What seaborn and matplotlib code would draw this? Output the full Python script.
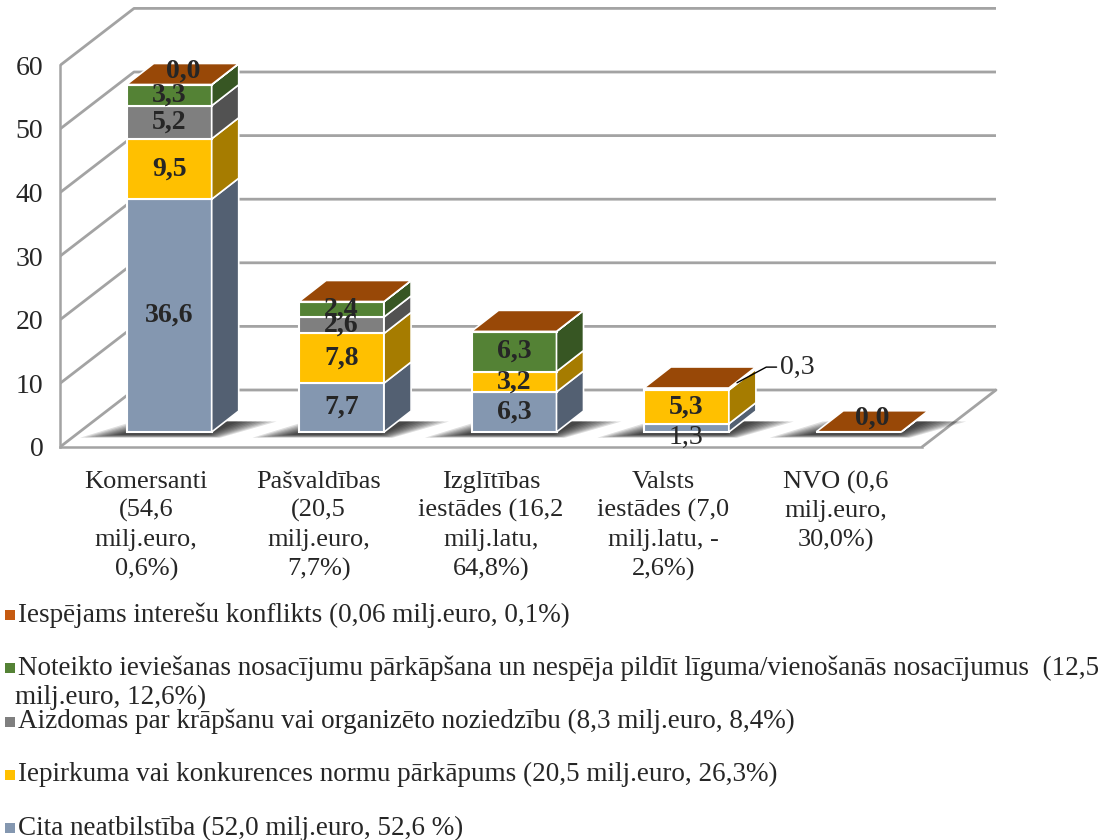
import numpy as np
import matplotlib.pyplot as plt
import seaborn as sns
from matplotlib.patches import Polygon, Rectangle

# ─── data ─────────────────────────────────────────────────────────────────────
categories = [
    "Komersanti\n(54,6\nmilj.euro,\n0,6%)",
    "Pašvaldības\n(20,5\nmilj.euro,\n7,7%)",
    "Izglītības\niestādes (16,2\nmilj.latu,\n64,8%)",
    "Valsts\niestādes (7,0\nmilj.latu, -\n2,6%)",
    "NVO (0,6\nmilj.euro,\n30,0%)",
]

# stacked bottom -> top
cita      = [36.6, 7.7, 6.3, 1.3, 0.0]
iepirkuma = [9.5, 7.8, 3.2, 5.3, 0.0]
aizdomas  = [5.2, 2.6, 0.0, 0.0, 0.0]
noteikto  = [3.3, 2.4, 6.3, 0.3, 0.0]
konflikts = [0.04, 0.02, 0.02, 0.02, 0.04]
show_konflikts_label = [True, False, False, False, True]

series_names = [
    "Cita neatbilstība (52,0 milj.euro, 52,6 %)",
    "Iepirkuma vai konkurences normu pārkāpums (20,5 milj.euro, 26,3%)",
    "Aizdomas par krāpšanu vai organizēto noziedzību (8,3 milj.euro, 8,4%)",
    "Noteikto ieviešanas nosacījumu pārkāpšana un nespēja pildīt līguma/vienošanās nosacījumus  (12,5\nmilj.euro, 12,6%)",
    "Iespējams interešu konflikts (0,06 milj.euro, 0,1%)",
]
series_values = [cita, iepirkuma, aizdomas, noteikto, konflikts]

front_colors  = ["#8497B0", "#FFC000", "#7F7F7F", "#548235", "#984807"]
side_colors   = ["#536072", "#A67C00", "#525252", "#375623", "#6A3204"]
legend_colors = ["#8497B0", "#FFC000", "#7F7F7F", "#548235", "#C55A11"]
top_color = "#984807"

yticks = list(range(0, 61, 10))

# ─── geometry (pixel based oblique projection) ───────────────────────────────
W, H = 1106, 840
PX_X, PX_Y = 172.4, 6.36            # pixels per category / per value unit
wall_dx, wall_dy = 74 / PX_X, 57 / PX_Y
bar_off_x, bar_off_y = 23 / PX_X, 15 / PX_Y
bar_dx, bar_dy = 27 / PX_X, 21 / PX_Y
bar_w = 85 / PX_X
grid_col = "#A3A3A3"
LBL = 20

sns.set_theme(style="white")
plt.rcParams["font.family"] = ["Liberation Serif", "DejaVu Serif"]

fig = plt.figure(figsize=(W / 100, H / 100), dpi=100)
ax = fig.add_axes([60 / W, 1 - 447 / H, 940 / W, 442 / H])
ax.set_xlim(-0.5, -0.5 + 940 / PX_X)
ax.set_ylim(0, 442 / PX_Y)

n = len(categories)
x_left, x_right = -0.5, n - 0.5

# walls / gridlines
for v in yticks:
    ax.plot([x_left, x_left + wall_dx, x_right + wall_dx],
            [v, v + wall_dy, v + wall_dy], color=grid_col, lw=2, zorder=1,
            solid_capstyle="butt")
ax.plot([x_right, x_right + wall_dx], [0, wall_dy], color=grid_col, lw=2, zorder=1)

# bars
for i in range(n):
    x0 = i + bar_off_x - bar_w / 2
    base = bar_off_y
    # soft floor shadow
    for k in range(9):
        g = 0.028 * k
        shadow = Polygon([(x0 - 0.27 + g, base - 0.9 + 0.06 * k),
                          (x0 + bar_w + 0.05 - g * 0.3, base - 0.9 + 0.06 * k),
                          (x0 + bar_w + bar_dx + 0.22 - g, base + bar_dy * 0.5),
                          (x0 + bar_dx - 0.12 + g, base + bar_dy * 0.5)],
                         closed=True, facecolor="black", edgecolor="none",
                         alpha=0.13, zorder=2)
        ax.add_patch(shadow)

    bottom = base
    top_series = None
    for s, vals in enumerate(series_values):
        v = vals[i]
        if v <= 0:
            continue
        y0, y1 = bottom, bottom + v
        ax.add_patch(Rectangle((x0, y0), bar_w, v, facecolor=front_colors[s],
                               edgecolor="white", lw=1.5, zorder=3))
        ax.add_patch(Polygon([(x0 + bar_w, y0), (x0 + bar_w + bar_dx, y0 + bar_dy),
                              (x0 + bar_w + bar_dx, y1 + bar_dy), (x0 + bar_w, y1)],
                             closed=True, facecolor=side_colors[s], edgecolor="white",
                             lw=1.2, zorder=3))
        bottom = y1
        top_series = s
    if top_series is not None:
        ax.add_patch(Polygon([(x0, bottom), (x0 + bar_w, bottom),
                              (x0 + bar_w + bar_dx, bottom + bar_dy),
                              (x0 + bar_dx, bottom + bar_dy)],
                             closed=True, facecolor=top_color, edgecolor="white",
                             lw=1.2, zorder=4))

    # value labels
    bottom = base
    for s, vals in enumerate(series_values):
        v = vals[i]
        if v <= 0:
            continue
        txt = f"{v:.1f}".replace(".", ",")
        cx = x0 + bar_w / 2
        if s == 4:
            if show_konflikts_label[i]:
                ax.text(cx + bar_dx / 2, bottom + v + bar_dy * 0.65, txt, ha="center",
                        va="center", fontsize=LBL, fontweight="bold", zorder=10)
        elif v < 1.0:
            ty = bottom + v + bar_dy
            lx = x0 + bar_w + bar_dx
            ax.plot([x0 + bar_w + bar_dx * 0.3, lx + 0.06, lx + 0.12],
                    [bottom + v * 0.5 + bar_dy * 0.3, ty, ty], color="black",
                    lw=1, zorder=10)
            ax.text(lx + 0.14, ty, txt, ha="left", va="center", fontsize=LBL,
                    zorder=10)
        elif v < 2.0:
            ax.text(cx, bottom - 0.8, txt, ha="center", va="center", fontsize=LBL,
                    zorder=10)
        else:
            ax.text(cx, bottom + v / 2, txt, ha="center", va="center", fontsize=LBL,
                    fontweight="bold", zorder=10)
        bottom += v

# axes cosmetics
for side in ["top", "right"]:
    ax.spines[side].set_visible(False)
ax.spines["left"].set_bounds(0, 60)
ax.spines["bottom"].set_bounds(x_left, x_right)
for side in ["left", "bottom"]:
    ax.spines[side].set_color(grid_col)
    ax.spines[side].set_linewidth(1.8)
ax.set_yticks(yticks)
ax.set_yticklabels([str(t) for t in yticks])
ax.set_xticks(range(n))
ax.set_xticklabels(categories, linespacing=1.38)
ax.set_xticks(np.arange(n + 1) - 0.5, minor=True)
ax.tick_params(axis="y", length=6, width=1.5, color=grid_col, labelsize=20, pad=6)
ax.tick_params(axis="x", which="major", length=0, labelsize=19, pad=17)
ax.tick_params(axis="x", which="minor", length=8, width=1.5, color=grid_col)
ax.grid(False)

# legend (manual, top entry = last series)
lax = fig.add_axes([0, 0, 1, 1])
lax.set_xlim(0, W)
lax.set_ylim(H, 0)
lax.axis("off")
for j, s in enumerate(reversed(range(len(series_names)))):
    yc = 615 + j * 53.3
    lax.add_patch(Rectangle((5, yc - 5), 10, 10, facecolor=legend_colors[s],
                            edgecolor="none"))
    for k, line in enumerate(series_names[s].split("\n")):
        lax.text(18 if k == 0 else 15, yc + k * 29, line, ha="left", va="center",
                 fontsize=19.5)

fig.savefig("out.png", dpi=100)
